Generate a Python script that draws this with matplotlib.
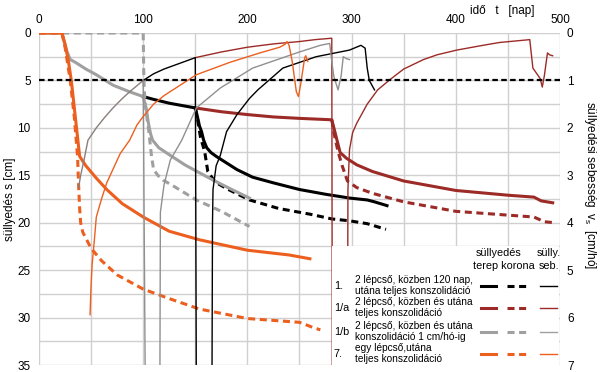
import numpy as np
import matplotlib.pyplot as plt
from matplotlib.patches import Rectangle

plt.rcParams['font.family'] = ['Liberation Sans', 'DejaVu Sans']

# --- süllyedés s [cm] (idő t [nap]) ---
# közös első lépcső (1., 1/a, 1/b)
t_kozos = [0, 22, 24, 27, 30, 35, 45, 55, 71, 87, 100]
s_kozos = [0, 0, 0.8, 2.0, 2.8, 3.1, 3.8, 4.4, 5.5, 6.2, 6.7]

# 1. terep / korona
t_1 = [100, 110, 125, 140, 150, 152, 154, 156, 158, 161, 165, 170, 180, 190, 205, 225, 250, 275, 298, 315, 322, 334]
s_1 = [6.7, 7.0, 7.4, 7.7, 7.9, 8.8, 9.8, 10.4, 11.3, 12.1, 12.6, 13.0, 13.7, 14.4, 15.2, 15.8, 16.5, 17.0, 17.4, 17.6, 17.8, 18.2]
t_1k = [150, 152, 155, 159, 162, 169, 180, 202, 230, 260, 281, 298, 315, 327, 333]
s_1k = [7.9, 9.0, 11.0, 12.5, 14.6, 15.7, 16.4, 17.6, 18.5, 19.1, 19.6, 19.8, 20.1, 20.5, 20.7]

# 1/a terep / korona
t_1a = [150, 175, 200, 225, 250, 281, 283, 286, 289, 295, 305, 320, 350, 400, 450, 475, 482, 493]
s_1a = [7.9, 8.3, 8.6, 8.85, 9.0, 9.15, 10.0, 11.3, 12.6, 13.2, 13.9, 14.6, 15.6, 16.6, 17.1, 17.3, 17.7, 17.9]
t_1ak = [281, 283, 287, 291, 296, 305, 320, 350, 400, 450, 475, 485, 495]
s_1ak = [9.15, 10.5, 12.5, 14.0, 15.6, 16.3, 16.9, 17.8, 18.8, 19.2, 19.4, 19.9, 20.0]

# 1/b terep / korona
t_1b = [100, 103, 105, 107, 109, 115, 126, 140, 150, 167, 185, 202]
s_1b = [6.7, 8.0, 9.5, 10.6, 11.3, 12.1, 12.9, 13.9, 14.5, 15.5, 16.5, 17.4]
t_1bk = [0, 100, 100.5, 101, 102, 103, 105, 107, 108, 110, 114, 119, 130, 151, 175, 202]
s_1bk = [0, 0, 4.0, 6.0, 7.5, 8.5, 10.0, 12.0, 13.0, 14.4, 15.0, 15.5, 16.2, 17.6, 18.8, 20.4]

# 7. terep / korona
t_7 = [0, 22, 25, 28, 31, 34, 37, 39, 45, 55, 65, 80, 100, 125, 154, 200, 240, 250, 260]
s_7 = [0, 0, 1.2, 2.8, 5.0, 8.0, 11.0, 13.0, 14.0, 15.3, 16.5, 18.0, 19.4, 20.9, 21.8, 22.9, 23.4, 23.6, 23.8]
t_7k = [0, 22, 25, 30, 34, 37, 38, 39, 40, 42, 50, 60, 75, 100, 125, 154, 200, 250, 262, 270]
s_7k = [0, 0, 1.5, 5.0, 9.0, 13.0, 16.0, 18.5, 20.0, 21.0, 22.7, 24.0, 25.5, 27.0, 28.0, 29.1, 30.1, 30.5, 31.0, 31.3]

# --- süllyedési sebesség v_s [cm/hó] ---
tv_kozos = [38, 40, 43, 47, 55, 63, 71, 80, 87, 100]
v_kozos = [3.26, 3.0, 2.7, 2.26, 2.0, 1.78, 1.58, 1.38, 1.24, 1.0]

tv_1 = [100, 110, 120, 135, 150, 151, 166, 166.5, 167, 170, 174, 180, 190, 202, 210, 234, 266, 298, 309, 313, 315, 317, 322]
v_1 = [1.0, 0.86, 0.76, 0.64, 0.52, 7.5, 7.5, 4.0, 3.3, 2.8, 2.58, 2.08, 1.72, 1.38, 1.2, 0.74, 0.5, 0.36, 0.26, 0.32, 0.74, 1.0, 1.2]

tv_1a = [150, 175, 200, 225, 250, 265, 281, 281.5, 296, 296.5, 298, 301, 305, 315, 325, 337, 350, 369, 382, 401, 426, 442, 471, 474, 481, 483, 485, 488, 490, 493]
v_1a = [0.52, 0.4, 0.3, 0.23, 0.18, 0.14, 0.11, 7.5, 7.5, 3.3, 2.46, 2.1, 1.9, 1.5, 1.2, 0.98, 0.76, 0.56, 0.46, 0.36, 0.26, 0.2, 0.14, 0.74, 0.96, 1.14, 0.9, 0.42, 0.46, 0.48]

tv_1b = [100, 102, 116, 116.5, 120, 126, 137, 151, 174, 205, 250, 270, 279, 281, 283, 287, 290, 292, 295, 298]
v_1b = [1.0, 7.5, 7.5, 3.78, 3.2, 2.68, 2.26, 1.58, 1.16, 0.74, 0.4, 0.26, 0.22, 0.6, 0.92, 1.2, 0.9, 0.5, 0.54, 0.56]

tv_7 = [49, 50, 51, 53, 55, 60, 65, 78, 87, 94, 100, 110, 120, 151, 183, 212, 231, 236, 238, 240, 243, 247, 249, 251, 255, 256, 258]
v_7 = [5.94, 5.3, 4.88, 4.4, 3.88, 3.5, 3.16, 2.54, 2.26, 1.94, 1.76, 1.5, 1.32, 0.88, 0.62, 0.42, 0.3, 0.24, 0.18, 0.26, 0.6, 1.24, 1.34, 1.1, 0.52, 0.48, 0.6]

v_hatar = 1.0  # 1 cm/hó

leg_kod = ['1.', '1/a', '1/b', '7.']
leg_szoveg = ['2 lépcső, közben 120 nap,\nutána teljes konszolidáció',
              '2 lépcső, közben és utána\nteljes konszolidáció',
              '2 lépcső, közben és utána\nkonszolidáció 1 cm/hó-ig',
              'egy lépcső,utána\nteljes konszolidáció']

c_fekete = '#000000'
c_piros = '#9c2b27'
c_szurke = '#a0a0a0'
c_szurke_v = '#909090'
c_narancs = '#ec5f1e'
leg_szin = [c_fekete, c_piros, c_szurke, c_narancs]

vastag = 2.2
vekony = 1.0
szagg = (0, (2.3, 1.5))

fig = plt.figure(figsize=(6, 3.72), dpi=100)
ax = fig.add_axes([0.065, 0.0188, 0.8683, 0.8925])
ax2 = ax.twinx()

ax.set_xlim(0, 500)
ax.set_ylim(35, 0)
ax2.set_ylim(7, 0)
ax.set_xticks(np.arange(0, 501, 100))
ax.set_xticks(np.arange(0, 501, 50), minor=True)
ax.set_yticks(np.arange(0, 36, 5))
ax.set_yticks(np.arange(0, 36, 2.5), minor=True)
ax2.set_yticks(np.arange(0, 8, 1))
ax.grid(True, which='both', color='#d0d0d0', lw=1)
ax.xaxis.tick_top()
ax.tick_params(which='both', length=0, labelsize=8.5)
ax.tick_params(axis='x', pad=5)
ax.tick_params(axis='y', pad=6)
ax2.tick_params(length=0, labelsize=8.5, pad=5)
for sp in list(ax.spines.values()) + list(ax2.spines.values()):
    sp.set_visible(False)

# süllyedések
ax.plot(t_1a, s_1a, color=c_piros, lw=vastag)
ax.plot(t_1ak, s_1ak, color=c_piros, lw=vastag, ls=szagg)
ax.plot(t_1, s_1, color=c_fekete, lw=vastag)
ax.plot(t_1k, s_1k, color=c_fekete, lw=vastag, ls=szagg)
ax.plot(t_1b, s_1b, color=c_szurke, lw=vastag)
ax.plot(t_1bk, s_1bk, color=c_szurke, lw=vastag, ls=szagg)
ax.plot(t_kozos, s_kozos, color=c_szurke, lw=vastag)
ax.plot(t_7k, s_7k, color=c_narancs, lw=vastag, ls=szagg)
ax.plot(t_7, s_7, color=c_narancs, lw=vastag)

# sebességek
ax2.plot(tv_1a, v_1a, color=c_piros, lw=vekony)
ax2.plot(tv_1, v_1, color=c_fekete, lw=vekony)
ax2.plot(tv_1b, v_1b, color=c_szurke_v, lw=vekony)
ax2.plot(tv_kozos, v_kozos, color='#8a7f7c', lw=vekony)
ax2.plot(tv_7, v_7, color=c_narancs, lw=vekony)
ax2.axhline(v_hatar, color='black', lw=1.6, ls=(0, (2.5, 1.5)))

ax.yaxis.set_label_coords(-0.045, 0.536)
ax.set_ylabel('süllyedés s [cm]', fontsize=8.5)
ax2.set_ylabel('süllyedési sebesség  v$_{\\mathregular{s}}$  [cm/hó]', fontsize=8.5, rotation=270, va='center')
ax2.yaxis.set_label_coords(1.058, 0.542)
ax.text(0.889, 1.066, 'idő   t   [nap]', transform=ax.transAxes, fontsize=8.5, ha='center', va='center')

# jelmagyarázat
tr = ax2.transAxes
ax2.add_patch(Rectangle((0.5624, 0.0), 0.436, 0.358, transform=tr, facecolor='white', edgecolor='none', zorder=10))
ax2.text(0.883, 0.337, 'süllyedés', transform=tr, fontsize=7.8, ha='center', va='center', zorder=11)
ax2.text(0.893, 0.298, 'terep korona', transform=tr, fontsize=7.8, ha='center', va='center', zorder=11)
ax2.text(0.979, 0.337, 'sülly.', transform=tr, fontsize=7.8, ha='center', va='center', zorder=11)
ax2.text(0.979, 0.298, 'seb.', transform=tr, fontsize=7.8, ha='center', va='center', zorder=11)
sor_y = [0.238, 0.172, 0.099, 0.033]
for i in range(4):
    y = sor_y[i]
    ax2.text(0.566, y, leg_kod[i], transform=tr, fontsize=7.8, va='center', zorder=11)
    ax2.text(0.607, y + 0.002, leg_szoveg[i], transform=tr, fontsize=7.3, va='center', linespacing=1.12, zorder=11)
    ax2.plot([0.848, 0.877], [y, y], transform=tr, color=leg_szin[i], lw=vastag, zorder=11, clip_on=False)
    ax2.plot([0.898, 0.942], [y, y], transform=tr, color=leg_szin[i], lw=vastag, ls=szagg, zorder=11, clip_on=False)
    ax2.plot([0.962, 0.994], [y, y], transform=tr, color=leg_szin[i], lw=vekony, zorder=11, clip_on=False)

fig.savefig('out.png', dpi=100)
